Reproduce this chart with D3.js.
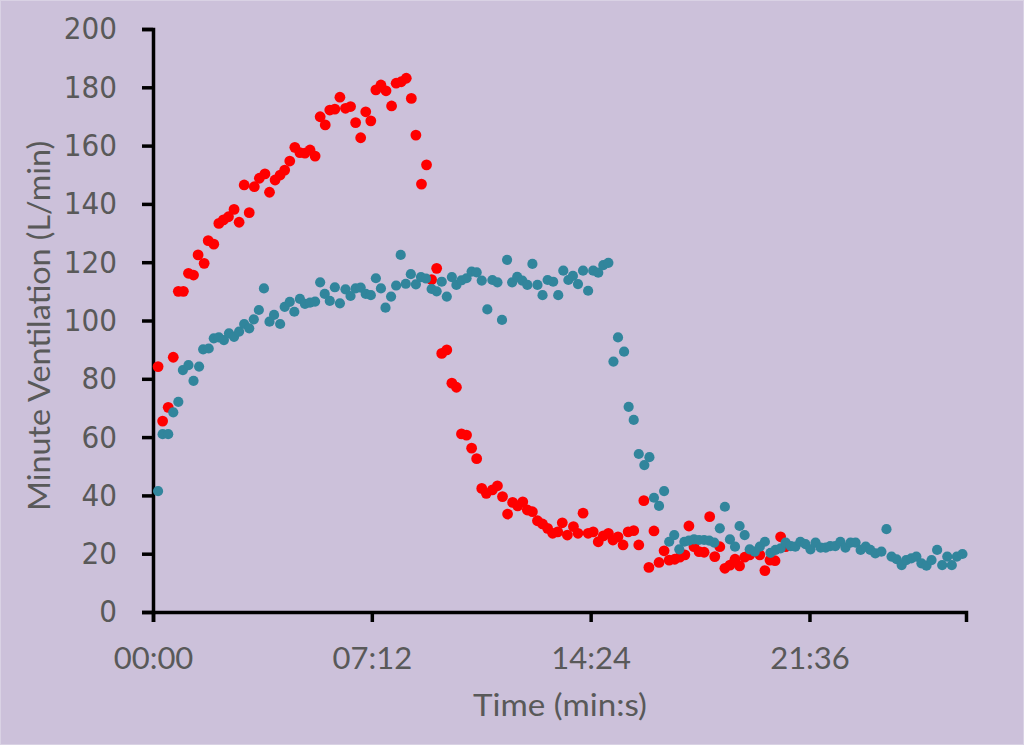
<!DOCTYPE html>
<html><head><meta charset="utf-8">
<script src="https://cdn.jsdelivr.net/npm/d3@7"></script>
<style>
html,body{margin:0;padding:0;background:#ccc1da;}
svg{display:block;}
</style></head>
<body>
<svg id="chart" width="1024" height="745"></svg>
<script>
// Time in seconds, minute ventilation in L/min
const redSeries = [[10,84.2],[19,65.5],[30,70.2],[40,87.4],[50,110],[60,110],[70,116.2],[80,115.6],[89,122.5],[101,119.6],[109,127.4],[120,126.2],[130,133.3],[139,134.5],[149,135.6],[160,138.1],[170,133.7],[180,146.5],[190,137],[200,145.9],[210,148.8],[221,150.3],[230,144],[241,148.2],[251,149.9],[260,151.6],[270,154.7],[280,159.4],[290,157.6],[300,157.4],[310,158.5],[320,156.4],[330,169.9],[340,167.1],[349,172.2],[359,172.5],[369,176.6],[380,172.8],[390,173.4],[400,167.9],[410,162.7],[420,171.6],[430,168.5],[440,179.1],[450,180.8],[460,178.8],[471,173.6],[480,181.4],[490,181.9],[500,183.1],[510,176.2],[519,163.6],[530,146.8],[540,153.4],[550,114],[560,117.9],[570,88.7],[580,89.9],[590,78.5],[599,77.1],[609,61.1],[619,60.7],[629,56.2],[639,52.6],[649,42.4],[658,40.7],[670,41.9],[680,43.3],[690,39.6],[700,33.6],[710,37.6],[720,36.4],[730,37.8],[739,35],[749,34.4],[759,31.3],[769,30.2],[779,28.7],[789,27],[799,27.5],[808,30.6],[818,26.4],[830,29.3],[839,27],[849,33.9],[859,27],[869,27.5],[879,24.1],[889,26.1],[899,27],[908,24.7],[918,25.8],[928,23],[938,27.5],[949,27.9],[959,23],[969,38.2],[979,15.3],[989,27.8],[999,17],[1009,21],[1019,17.8],[1030,18.1],[1040,18.8],[1050,19.6],[1058,29.5],[1068,22.4],[1078,20.7],[1088,20.5],[1099,32.7],[1109,19],[1119,22.4],[1129,15],[1139,16.1],[1149,18.1],[1158,15.8],[1168,18.8],[1178,19.6],[1198,19.6],[1208,14.2],[1218,17.8],[1228,17.6],[1239,25.8],[1249,22.4]];

const tealSeries = [[10,41.5],[19,61],[30,61],[40,68.5],[50,72.1],[59,83],[70,84.7],[80,79.3],[91,84.2],[99,90.1],[110,90.4],[120,93.9],[130,94.2],[140,93.3],[150,95.6],[160,94.4],[170,96.2],[180,98.8],[190,97.3],[199,100.4],[209,103.6],[219,111],[230,99.6],[239,101.9],[251,98.8],[260,104.7],[270,106.4],[279,103],[290,107.4],[300,105.7],[310,106.1],[320,106.5],[330,113.1],[339,109.1],[349,106.7],[359,111.4],[369,105.9],[380,110.7],[390,108.4],[400,111],[410,111.3],[420,109.1],[430,108.7],[440,114.5],[450,111],[459,104.4],[470,108.2],[480,112],[489,122.5],[499,112.6],[509,115.9],[519,112.4],[529,114.9],[539,114.4],[550,110.8],[560,110],[570,113.3],[580,108.2],[590,114.9],[599,112.2],[609,113.8],[619,114.5],[629,116.8],[639,116.5],[649,113.7],[660,103.8],[670,113.9],[680,113.1],[689,100.2],[699,120.8],[709,113.1],[719,115],[729,113.7],[739,112.2],[749,119.4],[759,112.2],[769,108.7],[779,113.9],[790,113.3],[800,108.7],[810,117.1],[820,113.9],[829,115.3],[839,112.5],[849,117.1],[859,110.2],[869,117.1],[879,116.4],[889,119],[899,119.8],[909,85.9],[918,94.2],[930,89.3],[939,70.4],[949,65.9],[959,54.2],[970,50.4],[980,53.1],[989,39.2],[999,36.4],[1009,41.5],[1019,24.1],[1029,26.4],[1039,21.5],[1049,24.1],[1058,24.5],[1068,24.9],[1078,24.7],[1088,24.7],[1098,24.5],[1108,23.8],[1119,28.7],[1129,36.1],[1139,24.9],[1149,22.4],[1158,29.5],[1168,26.4],[1178,21.5],[1188,20.7],[1198,22.4],[1208,24.1],[1219,20.3],[1229,21.3],[1239,21.8],[1249,23.8],[1259,22.6],[1268,22.4],[1278,24.1],[1288,23.3],[1298,21.5],[1308,23.8],[1318,22.1],[1328,22.1],[1337,22.6],[1347,22.6],[1357,24.1],[1367,22.1],[1377,23.8],[1387,23.8],[1397,21.3],[1407,22.4],[1416,21.3],[1426,20.1],[1438,20.7],[1448,28.4],[1458,19],[1468,18.1],[1478,16.1],[1487,17.8],[1497,18.4],[1507,19],[1517,16.7],[1527,15.9],[1537,17.8],[1548,21.3],[1558,16.1],[1568,19],[1577,16.1],[1587,19],[1598,19.9]];

const xTickValues = [0, 432, 864, 1296];
const xTickLabels = ["00:00", "07:12", "14:24", "21:36"];
const yTickValues = [0, 20, 40, 60, 80, 100, 120, 140, 160, 180, 200];
const xTitle = "Time (min:s)";
const yTitle = "Minute Ventilation (L/min)";

const svg = d3.select("#chart");
const W = 1024, H = 745;
const margin = {left: 153, right: 58, top: 29, bottom: 133};
const textColor = "#595959";

svg.append("rect").attr("x",0.5).attr("y",0.5).attr("width",W-1).attr("height",H-1)
  .attr("fill","#ccc1da").attr("stroke","#d9d2e4").attr("stroke-width",1);

const x = d3.scaleLinear().domain([0, 1605]).range([margin.left, W - margin.right]);
const y = d3.scaleLinear().domain([0, 200]).range([H - margin.bottom, margin.top]);

// Y axis
const yAxis = svg.append("g").attr("transform", `translate(${margin.left},0)`)
  .call(d3.axisLeft(y).tickValues(yTickValues).tickSizeOuter(0).tickSize(11).tickPadding(25));
yAxis.select(".domain").attr("stroke","#000").attr("stroke-width",3.5);
yAxis.selectAll(".tick line").attr("stroke","#000").attr("stroke-width",3.5);
yAxis.selectAll(".tick text")
  .attr("fill", textColor)
  .style("font-family", "'DejaVu Sans Condensed','DejaVu Sans',sans-serif")
  .style("font-stretch", "condensed")
  .style("font-size", "31px");

// X axis
const xAxis = svg.append("g").attr("transform", `translate(0,${H - margin.bottom})`)
  .call(d3.axisBottom(x).tickValues(xTickValues)
    .tickFormat((d,i) => xTickLabels[i]).tickSizeOuter(0).tickSize(10).tickPadding(10));
xAxis.select(".domain").attr("stroke","#000").attr("stroke-width",3.5);
xAxis.selectAll(".tick line").attr("stroke","#000").attr("stroke-width",3.5);
xAxis.selectAll(".tick text")
  .attr("fill", textColor)
  .attr("dy", null)
  .attr("y", 57)
  .style("font-family", "Lato, 'Open Sans', sans-serif")
  .style("font-size", "31px");

// Titles
svg.append("text")
  .attr("x", 560)
  .attr("y", 716)
  .attr("text-anchor","middle")
  .attr("fill", textColor)
  .attr("textLength", 174)
  .attr("lengthAdjust", "spacingAndGlyphs")
  .style("font-family", "Lato, 'Open Sans', sans-serif")
  .style("font-size", "31px")
  .text(xTitle);

svg.append("text")
  .attr("transform", `translate(50,326) rotate(-90)`)
  .attr("text-anchor","middle")
  .attr("fill", textColor)
  .attr("textLength", 370)
  .attr("lengthAdjust", "spacingAndGlyphs")
  .style("font-family", "Lato, 'Open Sans', sans-serif")
  .style("font-size", "31px")
  .text(yTitle);

// Points
const pts = svg.append("g");
pts.selectAll("circle.red").data(redSeries).join("circle")
  .attr("class","red")
  .attr("cx", d => x(d[0])).attr("cy", d => y(d[1])).attr("r", 5.4)
  .attr("fill", "#ff0000");
pts.selectAll("circle.teal").data(tealSeries).join("circle")
  .attr("class","teal")
  .attr("cx", d => x(d[0])).attr("cy", d => y(d[1])).attr("r", 5.1)
  .attr("fill", "#31859c");
</script>
</body></html>
